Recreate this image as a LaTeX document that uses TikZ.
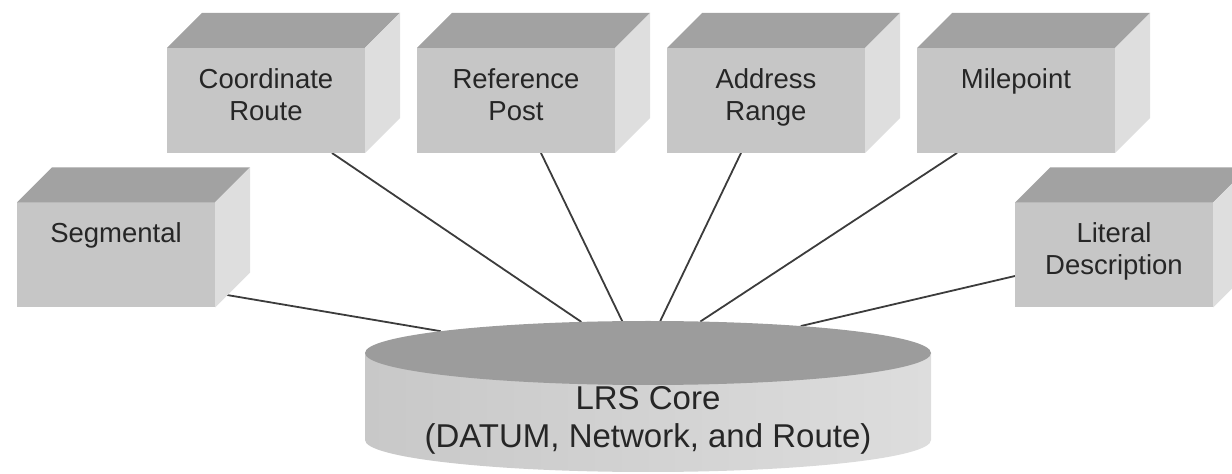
\documentclass[tikz,border=0pt]{standalone}
\usepackage{fontspec}
\setmainfont{Liberation Sans}
\usetikzlibrary{shapes.geometric,calc}
\pgfdeclarelayer{background}
\pgfsetlayers{background,main}
\definecolor{frontgray}{HTML}{C6C6C6}
\definecolor{topgray}{HTML}{A2A2A2}
\definecolor{sidegray}{HTML}{DEDEDE}
\definecolor{captop}{HTML}{9C9C9C}
\definecolor{bodyleft}{HTML}{C8C8C8}
\definecolor{bodymid}{HTML}{CFCFCF}
\definecolor{bodyright}{HTML}{DDDDDD}
\definecolor{linegray}{HTML}{3C3C3C}
\definecolor{txtgray}{HTML}{262626}
\tikzset{
  cube/.style={rectangle, fill=frontgray, minimum width=198pt, minimum height=105pt, inner sep=0pt, outer sep=0pt},
  cubetext/.style={font=\fontsize{27.5}{32}\selectfont, text=txtgray, align=center, inner sep=0pt, anchor=north},
  topface/.style={fill=topgray},
  sideface/.style={fill=sidegray},
  conn/.style={draw=linegray, line width=1.8pt},
  cylcap/.style={ellipse, fill=captop, minimum width=566pt, minimum height=64pt, inner sep=0pt, outer sep=0pt},
  coretext/.style={font=\fontsize{33}{38}\selectfont, text=txtgray, align=center, inner sep=0pt, anchor=north},
}
\newcommand\cubefaces[1]{%
  \fill[topface] (#1.north west) -- ++(35,35) -- ($(#1.north east)+(35,35)$) -- (#1.north east) -- cycle;
  \fill[sideface] (#1.north east) -- ++(35,35) -- ($(#1.south east)+(35,35)$) -- (#1.south east) -- cycle;
}
\begin{document}
\begin{tikzpicture}[x=1pt,y=1pt]
\useasboundingbox (0,0) rectangle (1232,474);
\clip (0,0) rectangle (1232,474);

% cubes
\node[cube] (seg)   at (116,219) {};
\node[cube] (coord) at (266,373.5) {};
\node[cube] (ref)   at (516,373.5) {};
\node[cube] (addr)  at (766,373.5) {};
\node[cube] (mile)  at (1016,373.5) {};
\node[cube] (lit)   at (1114,219) {};
\cubefaces{seg}
\cubefaces{coord}
\cubefaces{ref}
\cubefaces{addr}
\cubefaces{mile}
\cubefaces{lit}

\node[cubetext] (segT)   at ([yshift=-20pt]seg.north)   {Segmental};
\node[cubetext] (coordT) at ([yshift=-20pt]coord.north) {Coordinate\\Route};
\node[cubetext] (refT)   at ([yshift=-20pt]ref.north)   {Reference\\Post};
\node[cubetext] (addrT)  at ([yshift=-20pt]addr.north)  {Address\\Range};
\node[cubetext] (mileT)  at ([yshift=-20pt]mile.north)  {Milepoint};
\node[cubetext] (litT)   at ([yshift=-20pt]lit.north)   {Literal\\Description};

% core cylinder
\node[cylcap] (core) at (648,121) {};
\node[coretext] (coretxt) at (648,88) {LRS Core\\(DATUM, Network, and Route)};

\begin{pgfonlayer}{background}
  \shade[left color=bodyleft, middle color=bodymid, right color=bodyright]
    (core.west) -- ++(0,-87) arc[start angle=180, end angle=360, x radius=283pt, y radius=32pt] -- (core.east) -- cycle;
  \draw[conn] ([shift={(12,12.5)}]seg.south east) -- (core.174);
  \draw[conn] ([xshift=66pt]coord.south) -- (core.155.5);
  \draw[conn] ([xshift=25pt]ref.south) -- (core.129);
  \draw[conn] ([xshift=-25pt]addr.south) -- (core.69.5);
  \draw[conn] ([xshift=-59pt]mile.south) -- (core.31);
  \draw[conn] ([yshift=-21pt]lit.west) -- (core.10.5);
\end{pgfonlayer}
\end{tikzpicture}
\end{document}
